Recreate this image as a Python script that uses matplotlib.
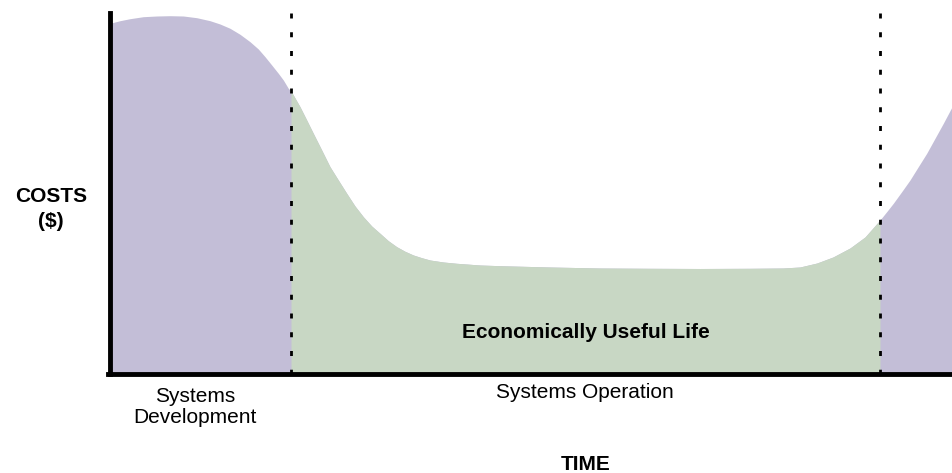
import matplotlib
matplotlib.use("Agg")
import matplotlib.pyplot as plt
import numpy as np

# ---- data (unitless time 0-843, cost 0-360) ----
time = [0, 10, 20, 33.3, 46.7, 60, 73.3, 86.7, 100, 110, 120, 130, 140, 148.3,
        155, 161.7, 168.3, 173.3, 178.3, 181,
        190, 196.7, 203.3, 211.7, 220, 228.3, 236.7, 245, 253.3, 261.7, 270,
        278.3, 286.7, 295, 303.3, 311.7, 320, 333.3, 346.7, 370, 390, 440, 490,
        540, 590, 640, 673, 690, 707, 723, 740, 755, 770,
        776.7, 783.3, 791.7, 800, 808.3, 816.7, 825, 833.3, 843]
cost = [350.7, 353.3, 355.3, 357.3, 358, 358.3, 358, 356.3, 353.3, 350, 345.7,
        339.7, 332.3, 325, 317.3, 309, 300.7, 294, 285.7, 283,
        267.3, 254, 240.7, 224, 207.3, 194, 180.7, 168, 157.3, 148, 140.7,
        133.3, 127.3, 122.7, 119, 116.3, 114, 112, 110.7, 109, 108.3, 107, 106,
        105.7, 105.5, 105.7, 106, 107, 111, 117, 126, 137, 154,
        162.3, 170.7, 182.3, 194, 207.3, 220.7, 235.7, 250.7, 269]
phase_bounds = [181, 770]
phase_labels = ["Systems\nDevelopment", "Systems Operation"]
phase_label_x = [85, 475]
life_label = "Economically Useful Life"
y_label = "COSTS\n($)"
x_label = "TIME"

purple = "#C3BED7"
green = "#C8D7C4"

plt.rcParams['font.family'] = ['Liberation Sans', 'DejaVu Sans']

W, H = 953, 473
fig = plt.figure(figsize=(W / 100, H / 100), dpi=100)
ax = fig.add_axes([110 / W, (H - 374) / H, 843 / W, 360 / H])

t = np.array(time)
c = np.array(cost)
b1, b2 = phase_bounds
ax.fill_between(t, 0, c, color=purple, lw=0)
ax.fill_between(t, 0, c, where=(t >= b1) & (t <= b2), color=green, lw=0)

lw = 2.0
for b in phase_bounds:
    ax.plot([b, b], [361, 0], color="black", lw=lw,
            linestyle=(0, (3.6 / lw, 9.9 / lw)), clip_on=False, zorder=3)

ax.set_xlim(0, 843)
ax.set_ylim(0, 360)
ax.set_xticks([])
ax.set_yticks([])
for s in ["top", "right"]:
    ax.spines[s].set_visible(False)
for s in ["left", "bottom"]:
    ax.spines[s].set_linewidth(3.5)
    ax.spines[s].set_color("black")
    ax.spines[s].set_zorder(4)
ax.spines["left"].set_bounds(0, 361)
ax.spines["bottom"].set_bounds(-2, 843)

fs = 15
ax.text(476, 36, life_label, ha="center", va="baseline",
        fontsize=fs, fontweight="bold")

tr = ax.get_xaxis_transform()
ax.text(phase_label_x[1], -0.068, phase_labels[1], transform=tr,
        ha="center", va="baseline", fontsize=fs)
ax.text(phase_label_x[0], -0.037, phase_labels[0], transform=tr,
        ha="center", va="top", fontsize=fs, linespacing=1.1)

fig.text(51 / W, (H - 209) / H, y_label, ha="center", va="center",
         fontsize=fs, fontweight="bold", linespacing=1.35)
fig.text(586 / W, (H - 470) / H, x_label, ha="center", va="baseline",
         fontsize=fs, fontweight="bold")

fig.savefig("out.png", dpi=100)
